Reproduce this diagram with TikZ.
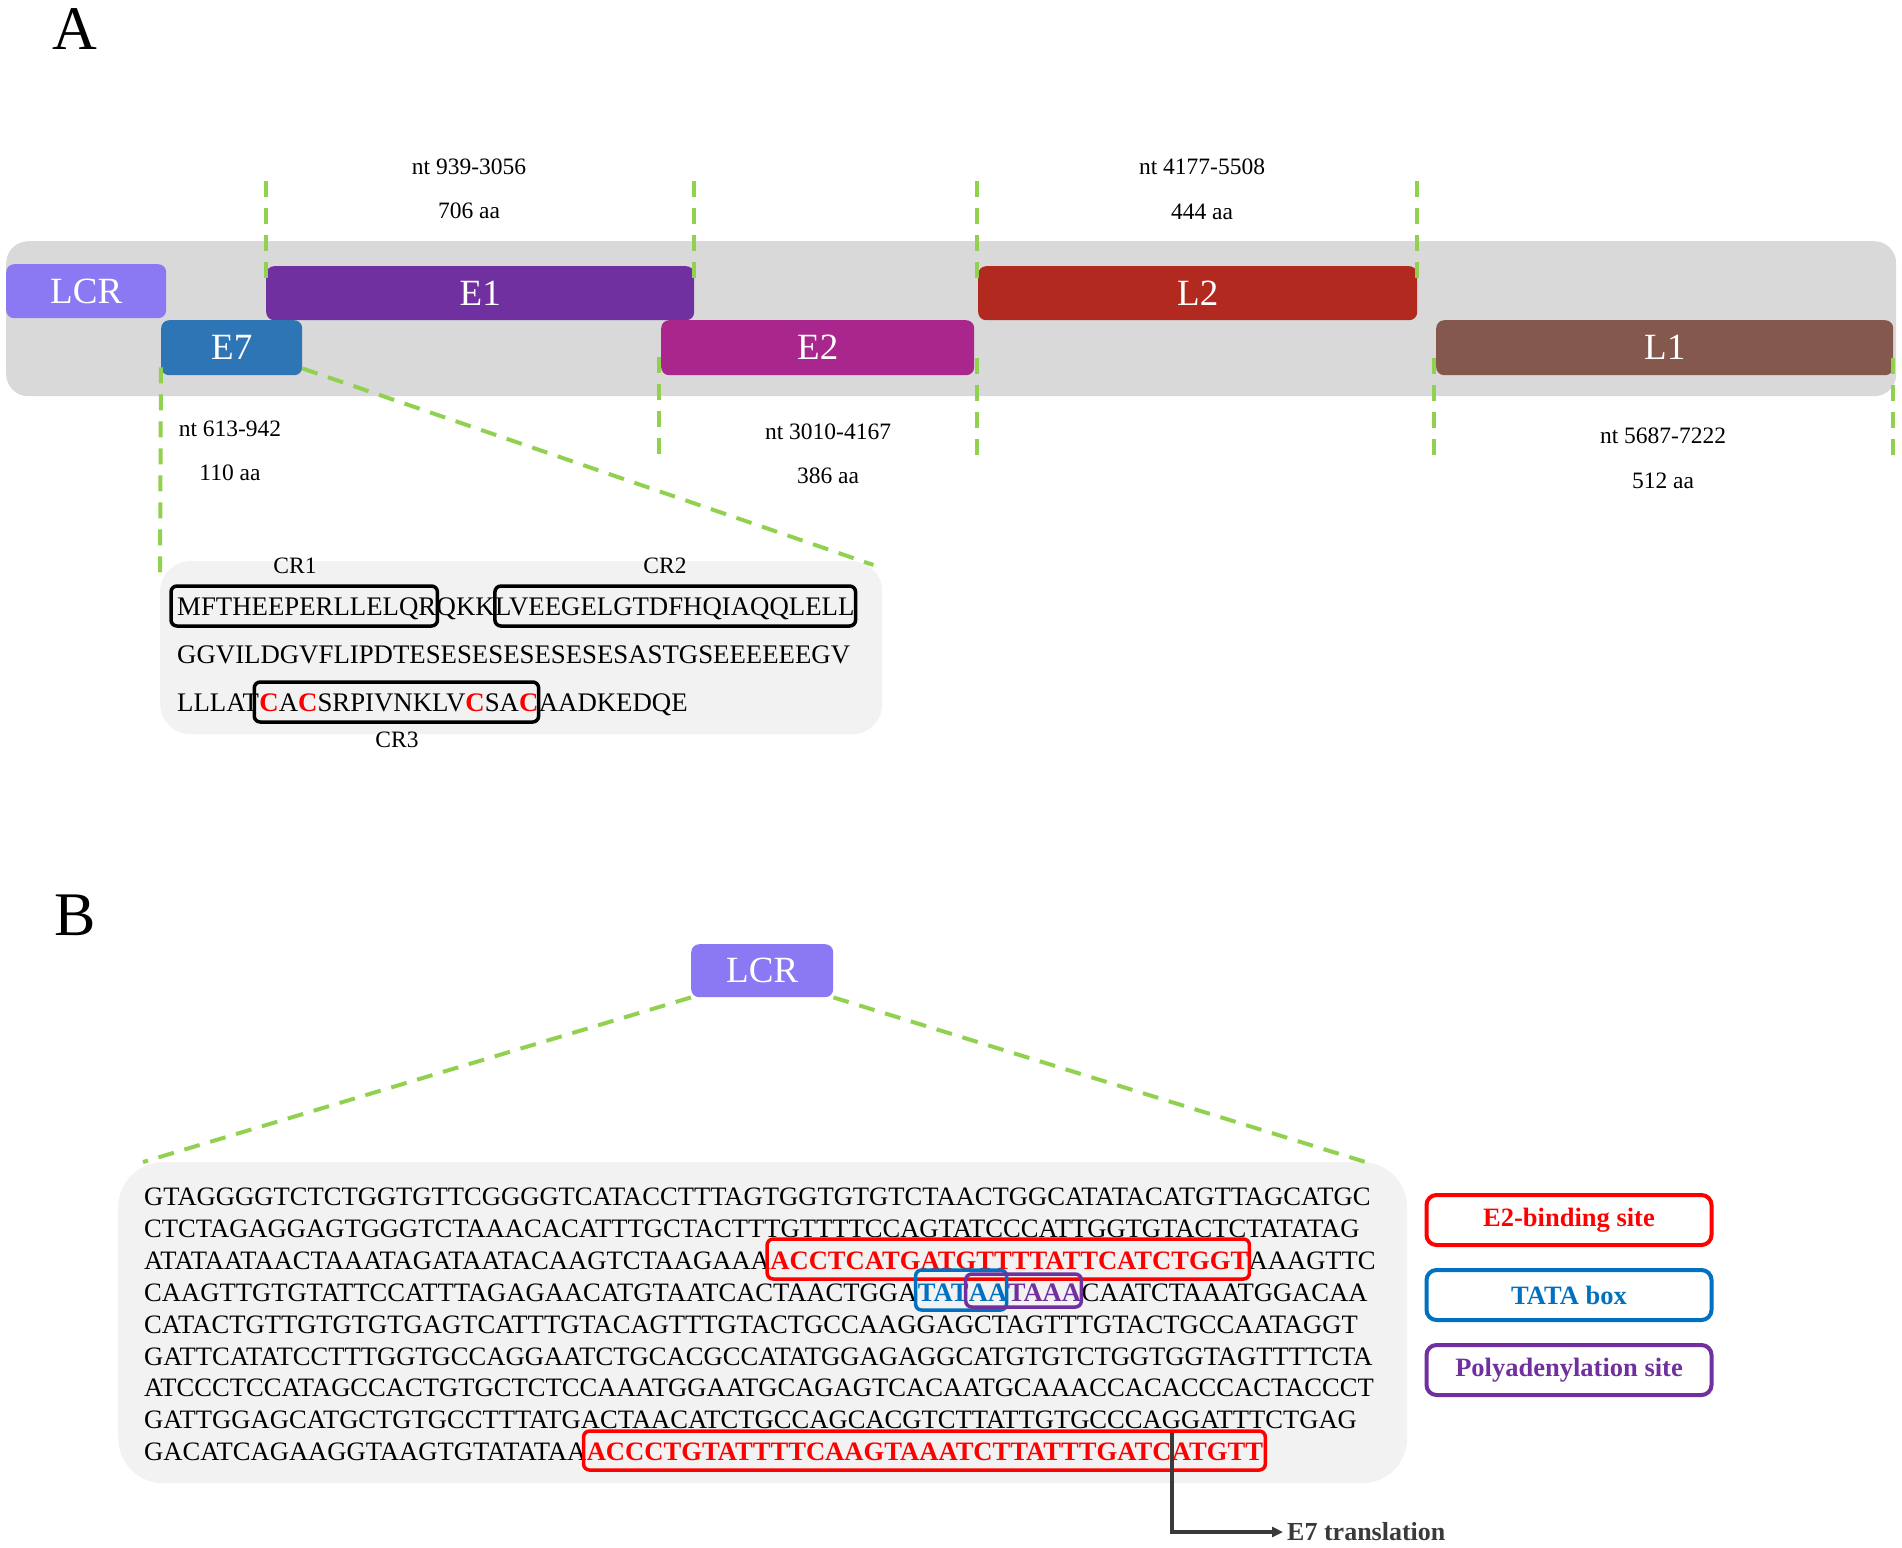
\documentclass[tikz,border=0pt]{standalone}
\usepackage{fontspec}
\setmainfont{Liberation Serif}
\usetikzlibrary{arrows.meta}
\definecolor{bandgray}{HTML}{D9D9D9}
\definecolor{boxgray}{HTML}{F2F2F2}
\definecolor{lcrcol}{HTML}{8A79F3}
\definecolor{e1col}{HTML}{7030A0}
\definecolor{e7col}{HTML}{2E75B6}
\definecolor{e2col}{HTML}{A9278C}
\definecolor{l2col}{HTML}{B22A1F}
\definecolor{l1col}{HTML}{85584D}
\definecolor{dashgreen}{HTML}{92D050}
\definecolor{sred}{HTML}{FF0000}
\definecolor{sblue}{HTML}{0070C0}
\definecolor{spurple}{HTML}{7030A0}
\definecolor{arrgray}{HTML}{3A3A3A}
\newcommand{\myredc}[1]{\textcolor{sred}{\bfseries #1}}
\begin{document}
\begin{tikzpicture}[x=1pt,y=-1pt,
  gene/.style={rounded corners=8pt, inner sep=0pt, anchor=north west, text=white, font=\fontsize{37}{37}\selectfont},
  gdash/.style={draw=dashgreen, line width=4pt, dash pattern=on 16pt off 11pt},
  ntlab/.style={font=\fontsize{23.5}{23.5}\selectfont, inner sep=0pt},
  dnaseq/.style={font=\fontsize{26.6}{26.6}\selectfont, inner sep=0pt, anchor=base west},
  dnabold/.style={font=\fontsize{26.6}{26.6}\selectfont\bfseries, inner sep=0pt, anchor=base west},
  protseq/.style={font=\fontsize{26.8}{26.8}\selectfont, inner sep=0pt, anchor=base west},
  crbox/.style={draw=black, line width=3.5pt, rounded corners=6pt},
  sitebox/.style={line width=3.5pt, rounded corners=6pt},
  legbox/.style={draw, line width=4pt, rounded corners=10pt, minimum width=285pt, minimum height=50pt, inner sep=0pt, font=\fontsize{26.5}{26.5}\selectfont\bfseries, fill=white},
  panel/.style={font=\fontsize{62}{62}\selectfont, anchor=base west, inner sep=0pt}
]
\useasboundingbox (0,0) rectangle (1902,1547);

% ---------------- Panel A ----------------
\node[panel] (labA) at (52,49) {A};

\node[fill=bandgray, rounded corners=22pt, minimum width=1890pt, minimum height=155pt, anchor=north west, inner sep=0pt] (band) at (6,241) {};

\node[gene, fill=lcrcol, minimum width=160pt, minimum height=54pt] (LCR) at (6,264) {LCR};
\node[gene, fill=e1col, minimum width=428pt, minimum height=54pt] (E1) at (266,266) {E1};
\node[gene, fill=l2col, minimum width=439pt, minimum height=54pt] (L2) at (978,266) {L2};
\node[gene, fill=e7col, minimum width=141pt, minimum height=55pt] (E7) at (161,320) {E7};
\node[gene, fill=e2col, minimum width=313pt, minimum height=55pt] (E2) at (661,320) {E2};
\node[gene, fill=l1col, minimum width=457pt, minimum height=55pt] (L1) at (1436,320) {L1};

% dashed markers
\draw[gdash] ([yshift=85pt]E1.north west) -- ([yshift=-13pt]E1.north west);
\draw[gdash] ([yshift=85pt]E1.north east) -- ([yshift=-13pt]E1.north east);
\draw[gdash] ([xshift=-1pt,yshift=85pt]L2.north west) -- ([xshift=-1pt,yshift=-12pt]L2.north west);
\draw[gdash] ([yshift=85pt]L2.north east) -- ([yshift=-12pt]L2.north east);
\draw[gdash] ([xshift=-2pt,yshift=18pt]E2.south west) -- ([xshift=-2pt,yshift=-83pt]E2.south west);
\draw[gdash] ([xshift=3pt,yshift=17pt]E2.south east) -- ([xshift=3pt,yshift=-83pt]E2.south east);
\draw[gdash] ([xshift=-2pt,yshift=17pt]L1.south west) -- ([xshift=-2pt,yshift=-83pt]L1.south west);
\draw[gdash] ([yshift=17pt]L1.south east) -- ([yshift=-85pt]L1.south east);

% labels
\node[ntlab] (n1) at (469,167) {nt 939-3056};
\node[ntlab] (a1) at (469,211) {706 aa};
\node[ntlab] (n2) at (1202,167) {nt 4177-5508};
\node[ntlab] (a2) at (1202,212) {444 aa};
\node[ntlab] (n3) at (230,429) {nt 613-942};
\node[ntlab] (a3) at (230,473) {110 aa};
\node[ntlab] (n4) at (828,432) {nt 3010-4167};
\node[ntlab] (a4) at (828,476) {386 aa};
\node[ntlab] (n5) at (1663,436) {nt 5687-7222};
\node[ntlab] (a5) at (1663,481) {512 aa};

% E7 zoom
\node[fill=boxgray, rounded corners=30pt, minimum width=722pt, minimum height=173pt, anchor=north west, inner sep=0pt] (e7seq) at (160,561) {};
\draw[gdash] ([yshift=8pt]E7.south west) -- ([yshift=-22pt]e7seq.north west);
\draw[gdash] ([yshift=7pt]E7.south east) -- ([xshift=-9pt,yshift=-4pt]e7seq.north east);

\node[protseq] (p1a) at (177,615) {MFTHEEPERLLELQR};
\node[protseq] (p1b) at (p1a.base east) {QKK};
\node[protseq] (p1c) at (p1b.base east) {LVEEGELGTDFHQIAQQLELL};
\node[protseq] (p2) at (177,663) {GGVILDGVFLIPDTESESESESESESESASTGSEEEEEEGV};
\node[protseq] (p3a) at (177,711) {LLLAT};
\node[protseq] (p3b) at (p3a.base east) {\myredc{C}A\myredc{C}SRPIVNKLV\myredc{C}SA\myredc{C}};
\node[protseq] (p3c) at (p3b.base east) {AADKEDQE};

\draw[crbox] ([xshift=-6pt,yshift=-11pt]p1a.base west) rectangle ([xshift=1pt,yshift=29pt]p1a.base east);
\draw[crbox] ([xshift=0pt,yshift=-11pt]p1c.base west) rectangle ([xshift=1pt,yshift=29pt]p1c.base east);
\draw[crbox] ([xshift=-5pt,yshift=-11pt]p3b.base west) rectangle ([xshift=0pt,yshift=29pt]p3b.base east);

\node[ntlab] (cr1) at (295,566) {CR1};
\node[ntlab] (cr2) at (665,566) {CR2};
\node[ntlab] (cr3) at (397,740) {CR3};

% ---------------- Panel B ----------------
\node[panel] (labB) at (54,935) {B};

\node[gene, fill=lcrcol, minimum width=142pt, minimum height=53pt] (LCRb) at (691,944) {LCR};
\node[fill=boxgray, rounded corners=45pt, minimum width=1289pt, minimum height=321pt, anchor=north west, inner sep=0pt] (lcrseq) at (118,1162) {};
\draw[gdash] (LCRb.south west) -- ([xshift=25pt]lcrseq.north west);
\draw[gdash] (LCRb.south east) -- ([xshift=-42pt]lcrseq.north east);

\node[dnaseq] (b1) at (144,1205) {GTAGGGGTCTCTGGTGTTCGGGGTCATACCTTTAGTGGTGTGTCTAACTGGCATATACATGTTAGCATGC};
\node[dnaseq] (b2) at (144,1237) {CTCTAGAGGAGTGGGTCTAAACACATTTGCTACTTTGTTTTCCAGTATCCCATTGGTGTACTCTATATAG};
\node[dnaseq] (b3a) at (144,1269) {ATATAATAACTAAATAGATAATACAAGTCTAAGAAA};
\node[dnabold, text=sred] (b3b) at (b3a.base east) {ACCTCATGATGTTTTATTCATCTGGT};
\node[dnaseq] (b3c) at (b3b.base east) {AAAGTTC};
\node[dnaseq] (b4a) at (144,1301) {CAAGTTGTGTATTCCATTTAGAGAACATGTAATCACTAACTGGA};
\node[dnabold, text=sblue] (b4b) at (b4a.base east) {TAT};
\node[dnabold, text=sblue] (b4c) at (b4b.base east) {AA};
\node[dnabold, text=spurple] (b4d) at (b4c.base east) {TAAA};
\node[dnaseq] (b4e) at (b4d.base east) {CAATCTAAATGGACAA};
\node[dnaseq] (b5) at (144,1333) {CATACTGTTGTGTGTGAGTCATTTGTACAGTTTGTACTGCCAAGGAGCTAGTTTGTACTGCCAATAGGT};
\node[dnaseq] (b6) at (144,1365) {GATTCATATCCTTTGGTGCCAGGAATCTGCACGCCATATGGAGAGGCATGTGTCTGGTGGTAGTTTTCTA};
\node[dnaseq] (b7) at (144,1396) {ATCCCTCCATAGCCACTGTGCTCTCCAAATGGAATGCAGAGTCACAATGCAAACCACACCCACTACCCT};
\node[dnaseq] (b8) at (144,1428) {GATTGGAGCATGCTGTGCCTTTATGACTAACATCTGCCAGCACGTCTTATTGTGCCCAGGATTTCTGAG};
\node[dnaseq] (b9a) at (144,1460) {GACATCAGAAGGTAAGTGTATATAA};
\node[dnabold, text=sred] (b9b) at (b9a.base east) {ACCCTGTATTTTCAAGTAAATCTTATTTGATC};
\node[dnabold, text=sred] (b9c) at (b9b.base east) {ATGTT};

\draw[sitebox, draw=sred] ([xshift=-3pt,yshift=-10pt]b3b.base west) rectangle ([xshift=1pt,yshift=30pt]b3b.base east);
\draw[sitebox, draw=sblue] ([xshift=-2pt,yshift=-9pt]b4b.base west) rectangle ([xshift=-1pt,yshift=31pt]b4c.base east);
\draw[sitebox, draw=spurple] ([xshift=-3pt,yshift=-6pt]b4c.base west) rectangle ([xshift=0pt,yshift=27pt]b4d.base east);
\draw[sitebox, draw=sred] ([xshift=-3pt,yshift=-10pt]b9b.base west) rectangle ([xshift=2pt,yshift=29pt]b9c.base east);

% legend
\node[legbox, draw=sred, text=sred] (lg1) at (1569,1220) {E2-binding site};
\node[legbox, draw=sblue, text=sblue] (lg2) at (1569,1295) {TATA box};
\node[legbox, draw=spurple, text=spurple] (lg3) at (1569,1370) {Polyadenylation site};

% E7 translation arrow
\node[font=\fontsize{26}{26}\selectfont\bfseries, text=arrgray, anchor=west, inner sep=0pt] (e7t) at (1287,1532) {E7 translation};
\draw[arrgray, line width=3.5pt, -{Triangle[length=11pt,width=10pt]}] ([yshift=27pt]b9c.base west) |- ([xshift=-4pt]e7t.west);
\end{tikzpicture}
\end{document}
